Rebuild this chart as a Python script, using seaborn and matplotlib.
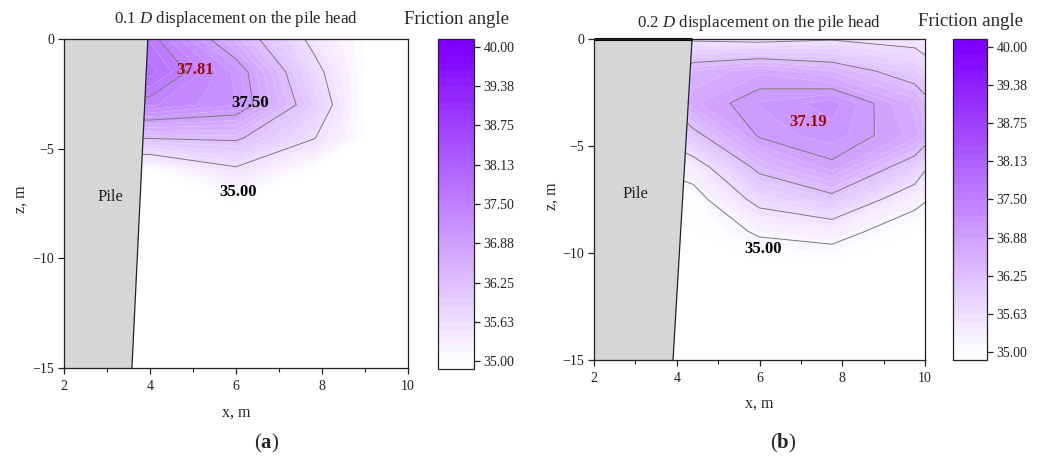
import numpy as np
import matplotlib
matplotlib.use("Agg")
import matplotlib.pyplot as plt
from matplotlib.colors import Normalize
from matplotlib.patches import Polygon
from matplotlib.ticker import MultipleLocator, FixedLocator, FixedFormatter
import seaborn as sns

# ---- mesh nodes (m) ----
X_NODES_A = [2.0, 4.0, 6.0, 7.8, 9.0, 10.0]
X_NODES_B = [2.0, 4.4, 6.0, 7.75, 9.75, 10.0]
Z_NODES = [0.0, -1.5, -3.0, -4.5, -6.0, -7.5, -9.0, -10.5, -12.0, -13.5, -15.0]

# ---- friction angle at the nodes (deg), rows follow Z_NODES ----
PHI_A = [
    [37.60, 37.60, 36.57, 35.51, 35.00, 35.00],
    [37.81, 37.81, 37.08, 35.79, 35.00, 35.00],
    [37.40, 37.40, 37.13, 36.00, 35.00, 35.00],
    [36.28, 36.28, 36.32, 35.66, 35.00, 35.00],
    [35.00, 35.00, 35.54, 35.00, 35.00, 35.00],
    [35.00, 35.00, 35.00, 35.00, 35.00, 35.00],
    [35.00, 35.00, 35.00, 35.00, 35.00, 35.00],
    [35.00, 35.00, 35.00, 35.00, 35.00, 35.00],
    [35.00, 35.00, 35.00, 35.00, 35.00, 35.00],
    [35.00, 35.00, 35.00, 35.00, 35.00, 35.00],
    [35.00, 35.00, 35.00, 35.00, 35.00, 35.00],
]
PHI_B = [
    [35.00, 35.57, 35.51, 35.60, 35.48, 35.38],
    [35.00, 36.50, 36.72, 36.50, 36.03, 35.88],
    [35.00, 36.72, 37.01, 37.19, 36.58, 36.39],
    [35.00, 36.13, 36.92, 37.07, 36.70, 36.52],
    [35.00, 35.38, 36.37, 36.82, 36.00, 35.68],
    [35.00, 35.04, 35.77, 36.12, 35.30, 35.22],
    [35.00, 35.00, 35.24, 35.33, 35.00, 35.00],
    [35.00, 35.00, 35.00, 35.00, 35.00, 35.00],
    [35.00, 35.00, 35.00, 35.00, 35.00, 35.00],
    [35.00, 35.00, 35.00, 35.00, 35.00, 35.00],
    [35.00, 35.00, 35.00, 35.00, 35.00, 35.00],
]

LINE_LEVELS_A = [35.63, 36.25, 36.88, 37.50]
LINE_LEVELS_B = [35.20, 35.63, 36.25, 36.88]

PHI_MIN, PHI_MAX = 35.0, 40.0
CBAR_TICKS = [35.0, 35.625, 36.25, 36.875, 37.5, 38.125, 38.75, 39.375, 40.0]
CBAR_LABELS = ["35.00", "35.63", "36.25", "36.88", "37.50",
               "38.13", "38.75", "39.38", "40.00"]

# pile face: x at the head (z = 0) and at the toe (z = -15)
PILE_HEAD_X = [3.95, 4.37]
PILE_TOE_X = [3.58, 3.91]

DISPLACEMENTS = ["0.1", "0.2"]
PANEL_TAGS = ["a", "b"]

# ---- style ----
sns.set_theme(style="ticks")
plt.rcParams.update({
    "font.family": ["Liberation Serif", "DejaVu Serif"],
    "mathtext.fontset": "custom",
    "mathtext.rm": "Liberation Serif",
    "mathtext.it": "Liberation Serif:italic",
    "mathtext.bf": "Liberation Serif:bold",
    "axes.edgecolor": "#222222",
    "axes.linewidth": 0.9,
    "xtick.color": "#222222",
    "ytick.color": "#222222",
    "xtick.labelsize": 10,
    "ytick.labelsize": 10,
    "xtick.major.size": 4,
    "ytick.major.size": 4,
    "xtick.minor.size": 3,
    "xtick.major.width": 0.9,
    "ytick.major.width": 0.9,
    "xtick.minor.width": 0.8,
})

cmap = sns.blend_palette(["#ffffff", "#7f00ff"], as_cmap=True)
fill_levels = np.concatenate([[PHI_MIN - 0.1],
                              np.linspace(PHI_MIN, PHI_MAX, 41),
                              [PHI_MAX + 0.1]])

W, H = 1048, 457
fig = plt.figure(figsize=(W / 100, H / 100), dpi=100)


def rect(x0, y0, x1, y1):
    return [x0 / W, 1 - y1 / H, (x1 - x0) / W, (y1 - y0) / H]


def ftext(px, py, s, **kw):
    fig.text(px / W, 1 - py / H, s, ha="center", va="center", **kw)


panels = [
    dict(x=X_NODES_A, phi=PHI_A, lines=LINE_LEVELS_A,
         ax=rect(64, 39, 408, 368), cax=rect(438, 39, 474, 369),
         title=(236, 19), ctitle=(456, 20), xlab=(236, 413),
         ylab=(21, 199), tag=(267, 443),
         pile_lab=(3.09, -7.2),
         notes=[("max", 5.05, -1.41, "#9b0a0a"),
                ("line", 6.33, -2.92, "black"),
                ("min", 6.05, -6.98, "black")],
         head_bar=False),
    dict(x=X_NODES_B, phi=PHI_B, lines=LINE_LEVELS_B,
         ax=rect(594, 39, 925, 360), cax=rect(953, 39, 987, 360),
         title=(759, 23), ctitle=(970, 22), xlab=(759, 404),
         ylab=(552, 196), tag=(783, 443),
         pile_lab=(2.99, -7.24),
         notes=[("max", 7.17, -3.88, "#9b0a0a"),
                ("min", 6.08, -9.81, "black")],
         head_bar=True),
]

for i, p in enumerate(panels):
    ax = fig.add_axes(p["ax"])
    X, Z = np.meshgrid(p["x"], Z_NODES)
    phi = np.array(p["phi"])

    # each panel gets its own norm so the two colour bars stay independent
    norm = Normalize(PHI_MIN, PHI_MAX)
    cs = ax.contourf(X, Z, phi, levels=fill_levels, cmap=cmap, norm=norm,
                     antialiased=True)
    ax.contour(X, Z, phi, levels=p["lines"], colors="#7a7a7a",
               linewidths=0.7)

    # pile body
    head, toe = PILE_HEAD_X[i], PILE_TOE_X[i]
    ax.add_patch(Polygon([(2, 0), (head, 0), (toe, -15), (2, -15)],
                         closed=True, fc="#d6d6d6", ec="none", zorder=3))
    ax.plot([head, toe], [0, -15], color="#222222", lw=0.9, zorder=4)
    if p["head_bar"]:
        ax.plot([2, head], [0, 0], color="black", lw=2.2, zorder=5,
                clip_on=False, solid_capstyle="butt")
    ax.text(*p["pile_lab"], "Pile", fontsize=12, ha="center", va="center",
            zorder=6)

    for kind, tx, tz, col in p["notes"]:
        if kind == "max":
            val = phi.max()
        elif kind == "min":
            val = phi.min()
        else:
            val = p["lines"][-1]
        ax.text(tx, tz, f"{val:.2f}", fontsize=12, fontweight="bold",
                color=col, ha="center", va="center", zorder=6)

    ax.set_xlim(2, 10)
    ax.set_ylim(-15, 0)
    ax.set_xticks([2, 4, 6, 8, 10])
    ax.xaxis.set_minor_locator(MultipleLocator(1))
    ax.set_yticks([0, -5, -10, -15])
    ax.tick_params(axis="both", which="both", direction="out", pad=3)
    ax.tick_params(axis="x", which="major", pad=5)
    for s in ax.spines.values():
        s.set_visible(True)
        s.set_zorder(7)

    cax = fig.add_axes(p["cax"])
    cb = fig.colorbar(cs, cax=cax)
    cb.set_ticks(CBAR_TICKS, labels=CBAR_LABELS)
    cb.ax.yaxis.set_minor_locator(FixedLocator([]))
    cb.ax.tick_params(direction="out", length=4, width=0.9, labelsize=10,
                      pad=3)
    cb.outline.set_linewidth(0.9)
    cb.outline.set_edgecolor("#222222")

    ftext(*p["title"], f"{DISPLACEMENTS[i]} $D$ displacement on the pile head",
          fontsize=12.2)
    ftext(*p["ctitle"], "Friction angle", fontsize=13.5)
    ftext(*p["xlab"], "x, m", fontsize=11.5)
    ftext(*p["ylab"], "z, m", fontsize=11.5, rotation=90)
    ftext(*p["tag"], "($\\mathbf{" + PANEL_TAGS[i] + "}$)", fontsize=15)

fig.savefig("out.png", dpi=100, facecolor="white")
